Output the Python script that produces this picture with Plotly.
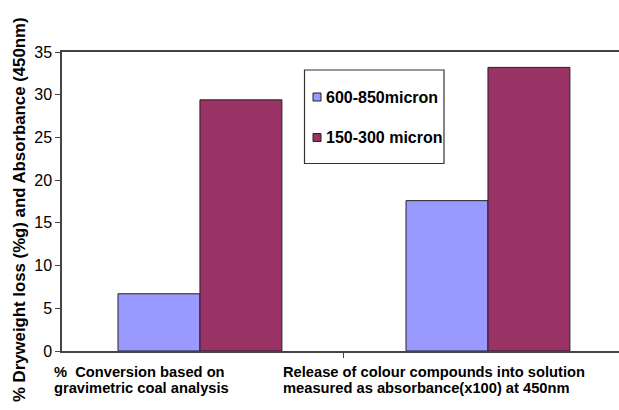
import plotly.graph_objects as go

# Data
category_lines = [
    ["% \u00a0Conversion based on", "gravimetric coal analysis"],
    ["Release of colour compounds into solution", "measured as absorbance(x100) at 450nm"],
]
series_names = ["600-850micron", "150-300 micron"]
coarse_values = [6.7, 17.6]
fine_values = [29.4, 33.2]
y_ticks = [0, 5, 10, 15, 20, 25, 30, 35]

colors = ["#9999FF", "#993366"]
x_pos = list(range(len(category_lines)))

W, H = 619, 410
M_L, M_R, M_T, M_B = 62, 0, 52, 59
PLOT_W = W - M_L - M_R
PLOT_H = H - M_T - M_B


def px_x(px):
    """Pixel column -> paper x."""
    return (px - M_L) / PLOT_W


def px_y(py):
    """Pixel row -> paper y."""
    return (H - M_B - py) / PLOT_H


fig = go.Figure()
for name, vals, col in zip(series_names, [coarse_values, fine_values], colors):
    fig.add_trace(go.Bar(
        x=x_pos, y=vals, name=name, showlegend=False,
        marker=dict(color=col, line=dict(color="#222222", width=1)),
    ))

axis_col = "#444444"
font_family = "Liberation Sans, Arial, sans-serif"
fig.update_layout(
    width=W, height=H,
    margin=dict(l=M_L, r=M_R, t=M_T, b=M_B),
    paper_bgcolor="white", plot_bgcolor="white",
    barmode="group", bargap=0.431, bargroupgap=0,
    font=dict(family=font_family, color="black"),
    xaxis=dict(
        range=[-0.479, 1.455], tickvals=[0.5], ticktext=[""],
        ticks="outside", ticklen=5, tickcolor=axis_col,
        showline=True, linecolor=axis_col, linewidth=1.5, mirror=True,
        showgrid=False, zeroline=False, fixedrange=True,
    ),
    yaxis=dict(
        range=[0, 35], tickvals=y_ticks,
        ticks="outside", ticklen=5, tickcolor=axis_col,
        tickfont=dict(size=16),
        showline=True, linecolor=axis_col, linewidth=1.5,
        showgrid=False, zeroline=False,
    ),
)

# Category labels below the axis, two tightly spaced lines each
for i, lines in enumerate(category_lines):
    block = max(lines, key=len)
    for j, line in enumerate(lines):
        fig.add_annotation(
            x=i, y=px_y(372 + 15.5 * j), xref="x", yref="paper",
            xanchor="left", yanchor="middle",
            xshift=-56 - 0.5 * len(block) * 7.35,
            text=line, showarrow=False,
            font=dict(size=14.7, weight="bold"),
        )

# Legend box
fig.add_shape(
    type="rect", xref="paper", yref="paper",
    x0=px_x(304.5), x1=px_x(444), y0=px_y(70), y1=px_y(163.5),
    line=dict(color="#333333", width=1.2), fillcolor="white", layer="above",
)
for k, (name, col) in enumerate(zip(series_names, colors)):
    cy = 97 + 40.5 * k
    fig.add_shape(
        type="rect", xref="paper", yref="paper",
        x0=px_x(313), x1=px_x(321), y0=px_y(cy - 4), y1=px_y(cy + 4),
        line=dict(color="#222222", width=1), fillcolor=col, layer="above",
    )
    fig.add_annotation(
        x=px_x(323.5), y=px_y(cy), xref="paper", yref="paper",
        xanchor="left", yanchor="middle", text=name, showarrow=False,
        font=dict(size=16, weight="bold"),
    )

# Y-axis title
fig.add_annotation(
    x=0, y=px_y(210), xref="paper", yref="paper", xanchor="center", yanchor="middle",
    xshift=-43, text="% Dryweight loss (%g) and Absorbance (450nm)",
    textangle=-90, showarrow=False, font=dict(size=16.8, weight="bold"),
)

fig.write_html("out.html")
